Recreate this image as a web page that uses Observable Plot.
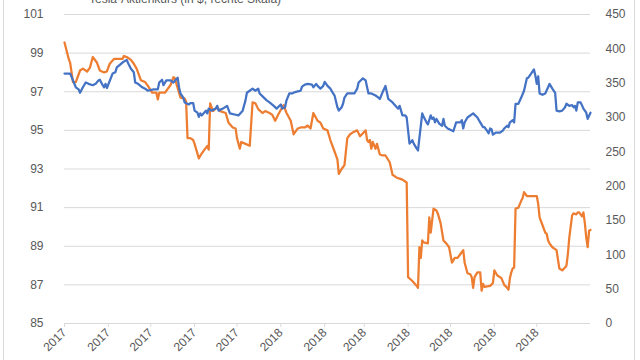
<!DOCTYPE html>
<html>
<head>
<meta charset="utf-8">
<script src="https://cdn.jsdelivr.net/npm/d3@7"></script>
<script src="https://cdn.jsdelivr.net/npm/@observablehq/plot@0.6"></script>
<style>
  html, body { margin: 0; padding: 0; background: #fff; }
  #wrap { position: relative; width: 640px; height: 360px; overflow: hidden; font-family: "Liberation Sans", Arial, sans-serif; }
  #frame { position: absolute; left: 3px; top: -5px; width: 632px; height: 370px; border: 1px solid #d9d9d9; box-sizing: border-box; pointer-events: none; }
  #legend { position: absolute; left: 67px; top: -8px; height: 14px; display: flex; align-items: center; font-size: 12px; color: #595959; white-space: nowrap; }
  #legend .sw { display: inline-block; width: 19px; height: 2.5px; background: #4472C4; margin-right: 3px; }
  #chart { position: absolute; left: 0; top: 0; }
</style>
</head>
<body>
<div id="wrap">
  <div id="frame"></div>
  <div id="chart"></div>
  <div id="legend"><span class="sw"></span><span>Tesla-Aktienkurs (in $, rechte Skala)</span></div>
</div>
<script>
// Bond price (left scale) — day offsets since 1 Aug 2017
const bondDays = [0,3,4,6,8,11,13,16,18,20,23,25,28,30,32,35,38,41,42,44,47,49,51,54,57,59,62,65,66,67,71,73,75,77,78,80,82,85,86,87,89,91,92,95,97,99,101,102,103,105,108,110,114,116,119,121,122,124,125,128,131,133,135,137,140,142,145,147,149,151,154,155,157,160,162,165,167,170,172,174,176,179,181,183,186,188,190,193,194,196,198,200,202,204,207,209,213,214,215,216,217,218,220,221,223,225,227,230,232,235,237,239,242,243,246,249,250,251,252,253,254,257,258,259,261,263,264,266,268,270,272,274,276,278,280,282,283,285,287,288,289,290,292,294,295,296,297,301,303,304,306,309,311,313,314,315,316,317,318,319,321,323,324,325,327,330,334,335,336,338,340,341,342,343,345,348,349,350,352,354,355,356,357,359,360,362,363,364,366,367,368,369,370,371,372];
const bondValues = [99.55,98.7,98.5,97.5,97.5,98.1,98.2,98.05,98.25,98.8,98.5,98.1,98.0,98.05,98.45,98.7,98.7,98.7,98.85,98.8,98.65,98.45,98.2,97.6,97.5,97.3,96.95,96.95,96.6,96.95,96.95,97.15,97.35,97.75,97.7,97.2,96.7,96.65,96.5,94.6,94.6,94.5,94.3,93.55,93.8,94.0,94.2,94.0,96.4,96.0,96.2,96.0,95.9,95.4,95.15,95.1,94.6,94.05,94.4,94.3,94.2,96.45,96.4,96.1,95.9,96.0,95.9,95.8,95.5,95.8,96.2,96.3,95.9,95.5,94.8,95.1,95.15,95.15,95.25,95.1,95.9,95.5,95.4,95.1,95.0,94.5,94.1,93.5,92.75,93.0,93.2,94.6,94.8,94.9,95.0,94.7,95.0,94.5,94.4,94.5,94.05,94.4,94.05,94.3,93.75,93.7,93.7,93.35,92.7,92.55,92.5,92.45,92.3,87.4,87.2,86.95,86.85,88.95,88.4,89.3,89.2,89.15,90.5,89.7,90.95,90.85,90.7,90.2,89.3,89.15,88.95,88.15,88.4,88.4,88.6,88.8,88.15,87.6,87.55,87.4,86.85,87.4,87.65,87.65,86.7,87.05,86.9,86.95,87.1,87.75,87.5,87.35,87.0,86.85,86.75,87.35,87.65,87.85,87.9,90.95,91.0,91.35,91.5,91.8,91.6,91.6,91.6,91.2,90.5,90.1,89.7,89.65,89.3,89.15,88.95,88.8,88.3,87.85,87.75,87.9,88.0,88.6,89.45,90.6,90.7,90.65,90.75,90.75,90.55,90.75,90.2,89.45,88.95,89.8,89.85];

// Tesla share price in $ (right scale)
const teslaDays = [0,4,6,8,10,11,13,15,17,20,22,24,25,27,28,29,30,34,36,37,41,44,45,47,49,50,52,55,57,59,63,66,67,69,70,72,75,77,80,81,82,84,85,88,89,91,92,94,95,96,97,100,101,102,104,107,108,109,112,115,117,121,123,126,128,129,131,133,135,137,138,141,143,145,148,150,153,154,156,157,159,161,163,165,167,168,170,172,175,176,178,179,181,183,184,186,188,190,191,193,194,196,197,198,200,203,205,207,208,210,211,213,214,215,217,220,222,223,225,227,229,232,235,236,237,239,241,242,244,246,247,249,250,253,254,256,257,259,260,261,262,263,265,267,268,269,271,274,275,277,280,281,282,283,285,289,292,294,296,297,299,300,301,302,303,305,308,310,311,313,314,315,317,318,319,321,323,325,327,328,330,332,333,334,335,336,338,340,342,343,345,347,348,350,352,354,355,357,359,360,361,362,363,365,367,369,370,372];
const teslaValues = [364,364,354,344,341,336,344,351,349,347,349,354,355,347,344,349,343,364,366,373,380,384,379,371,366,351,349,344,342,339,341,341,351,355,347,354,354,351,358,344,335,329,322,319,321,321,310,307,301,306,303,310,306,313,310,313,317,310,313,317,306,304,303,310,325,336,339,342,339,342,335,329,325,322,317,313,319,313,315,325,335,335,337,338,339,345,348,349,348,344,349,346,342,346,352,346,342,335,332,315,310,315,320,329,335,335,335,342,351,355,357,354,344,335,335,332,329,327,337,346,327,322,315,313,317,303,303,300,262,267,262,255,252,306,301,293,290,303,298,300,293,298,291,288,298,288,284,281,280,293,293,296,284,293,300,306,300,293,286,286,280,277,284,283,275,278,278,281,284,288,286,293,296,293,320,320,329,339,357,358,364,370,361,349,360,335,333,335,344,349,342,336,310,309,310,315,320,317,318,315,317,310,322,322,313,307,298,307];

const leftTicks = [85,87,89,91,93,95,97,99,101];
const rightTicks = [0,50,100,150,200,250,300,350,400,450];
const monthTickDays = [0,31,61,92,122,153,184,212,243,273,304,334];
const monthTickLabels = ["2017","2017","2017","2017","2017","2018","2018","2018","2018","2018","2018","2018"];

const LEFT_MIN = 85, LEFT_MAX = 101, RIGHT_MAX = 450;
const toLeft = v => LEFT_MIN + v * (LEFT_MAX - LEFT_MIN) / RIGHT_MAX;
const fromLeft = d => Math.round((d - LEFT_MIN) * RIGHT_MAX / (LEFT_MAX - LEFT_MIN));

const bond = bondDays.map((d, i) => ({day: d, value: bondValues[i]}));
const tesla = teslaDays.map((d, i) => ({day: d, value: teslaValues[i]}));
const labelMap = new Map(monthTickDays.map((d, i) => [d, monthTickLabels[i]]));

const txt = "#595959";
const chart = Plot.plot({
  width: 640,
  height: 360,
  marginTop: 14,
  marginBottom: 37,
  marginLeft: 64,
  marginRight: 50,
  style: {fontFamily: "'Liberation Sans', Arial, sans-serif", fontSize: "12px", background: "transparent", overflow: "visible"},
  x: {domain: [0, 372], axis: null},
  y: {domain: [LEFT_MIN, LEFT_MAX], axis: null},
  marks: [
    Plot.gridY(leftTicks, {stroke: "#d9d9d9", strokeOpacity: 1, strokeWidth: 1}),
    Plot.axisY(leftTicks, {anchor: "left", label: null, tickSize: 0, tickPadding: 21, fill: txt, fontSize: 12}),
    Plot.axisY(rightTicks.map(toLeft), {anchor: "right", label: null, tickSize: 0, tickPadding: 15, fill: txt, fontSize: 12, tickFormat: d => String(fromLeft(d))}),
    Plot.axisX(monthTickDays, {anchor: "bottom", label: null, tickSize: 4, tickPadding: 3, tickRotate: -45, stroke: "#d9d9d9", strokeOpacity: 1, fill: txt, fontSize: 12, tickFormat: d => labelMap.get(d)}),
    Plot.line(bond, {x: "day", y: "value", stroke: "#ED7D31", strokeWidth: 2.25, strokeLinejoin: "round"}),
    Plot.line(tesla, {x: "day", y: d => toLeft(d.value), stroke: "#4472C4", strokeWidth: 2.25, strokeLinejoin: "round"})
  ]
});
document.getElementById("chart").appendChild(chart);
</script>
</body>
</html>
